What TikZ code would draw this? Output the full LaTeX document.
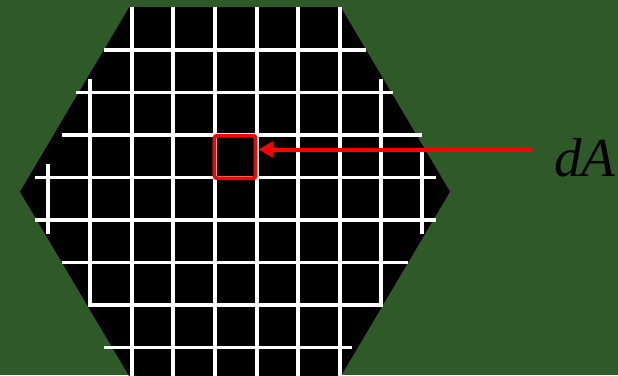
\documentclass[tikz,border=0pt]{standalone}
\usepackage{fontspec}
\setmainfont{Liberation Serif}
\usetikzlibrary{arrows.meta}
\definecolor{bggreen}{RGB}{46,90,39}
\begin{document}
\begin{tikzpicture}[x=1pt,y=-1pt,
  gridline/.style={white,line width=3.8pt},
  cellbox/.style={draw=red,line width=3.8pt,rounded corners=2.5pt,minimum width=41pt,minimum height=42.5pt,inner sep=0pt},
  pointer/.style={red,line width=4pt,-{Triangle[length=15pt,width=16pt]}},
  lbl/.style={anchor=base west,inner sep=0pt,font=\fontsize{55}{55}\selectfont\itshape}]
\fill[bggreen] (0,0) rectangle (618,375);
\useasboundingbox (0,0) rectangle (618,375);
\begin{scope}
\clip (0,0) rectangle (618,375);
\fill[black] (20,191.7) -- (129.3,7) -- (340.7,7) -- (450,191.7) -- (340.7,376.4) -- (129.3,376.4) -- cycle;
% vertical grid lines
\draw[gridline] (48.3,164) -- (48.3,233.5);
\draw[gridline] (90,79) -- (90,305) -- (381,305) -- (381,79);
\foreach \x in {131.7,173.3,215,256.7,298.3,340}
  \draw[gridline] (\x,7) -- (\x,376);
\draw[gridline] (422,149) -- (422,234);
% horizontal grid lines
\draw[gridline] (104,50) -- (366,50);
\draw[gridline] (76.3,92.5) -- (393.3,92.5);
\draw[gridline] (62.3,135) -- (421.7,135);
\draw[gridline] (34.7,177.5) -- (435.7,177.5);
\draw[gridline] (34.7,220) -- (435.7,220);
\draw[gridline] (62.3,262.5) -- (408.3,262.5);
\draw[gridline] (104,347.5) -- (352.3,347.5);
\end{scope}
\node[cellbox] (box) at (235,157) {};
\coordinate (tail) at (532,149.5);
\draw[pointer] (tail) -- ([xshift=1pt]box.east |- tail);
\node[lbl] (label) at (554,176) {dA};
\end{tikzpicture}
\end{document}
